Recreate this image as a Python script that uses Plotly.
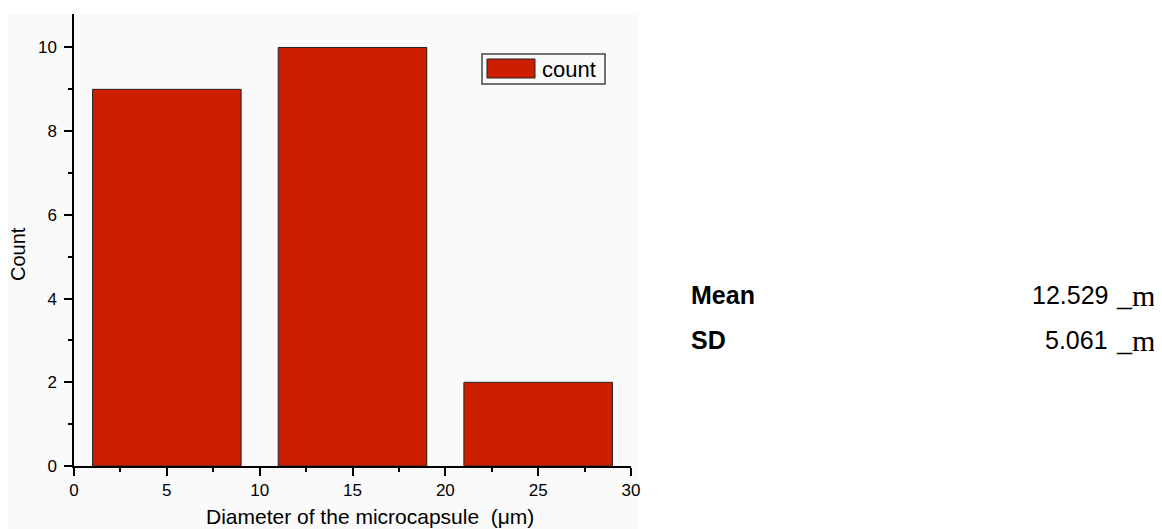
import plotly.graph_objects as go

# ---- data ----
bin_centers = [5, 15, 25]
bin_width = [8, 8, 8]
counts = [9, 10, 2]
series_name = "count"
x_tick_vals = [0, 5, 10, 15, 20, 25, 30]
y_tick_vals = [0, 2, 4, 6, 8, 10]
x_title = "Diameter of the microcapsule  (μm)"
y_title = "Count"
stat_labels = ["Mean", "SD"]
stat_values = ["12.529", "5.061"]
stat_unit = "_m"

# page has an 8px body margin; figure is sized to fit inside the window
OFF = 8
W, H = 1162 - OFF, 529 - OFF
PLOT_L, PLOT_R, PLOT_T, PLOT_B = 74, 631, 14, 466   # absolute page pixels
L = PLOT_L - OFF
T = PLOT_T - OFF
R = (W + OFF) - PLOT_R
B = (H + OFF) - PLOT_B
pw, ph = PLOT_R - PLOT_L, PLOT_B - PLOT_T

def px(x):
    return (x - PLOT_L) / pw

def py(y):
    return (PLOT_B - y) / ph

FONT = "Arial, Liberation Sans, sans-serif"
SERIF = "Liberation Serif, Times New Roman, DejaVu Serif, serif"
BAR = "#cd1f00"

fig = go.Figure()
fig.add_trace(go.Bar(
    x=bin_centers, y=counts, width=bin_width, name=series_name,
    marker=dict(color=BAR, line=dict(color="#222222", width=1)),
    showlegend=False,
))

axis_common = dict(
    showgrid=False, zeroline=False, showline=True, linecolor="black",
    linewidth=1.5, ticks="outside", tickcolor="black", tickwidth=1.5,
    tickfont=dict(family=FONT, size=17, color="black"),
)
fig.update_xaxes(
    range=[0, 30], tickvals=x_tick_vals, ticklen=8,
    minor=dict(ticks="outside", dtick=2.5, ticklen=4, tickcolor="black", tickwidth=1.5),
    **axis_common,
)
fig.update_yaxes(
    range=[0, 10.8], tickvals=y_tick_vals, ticklen=8, ticklabelstandoff=4,
    minor=dict(ticks="outside", dtick=1, ticklen=4, tickcolor="black", tickwidth=1.5),
    **axis_common,
)

shapes = [
    # light gray graph page
    dict(type="rect", xref="paper", yref="paper", x0=px(8), x1=px(639), y0=py(529), y1=py(14),
         fillcolor="#fafafa", line=dict(width=0), layer="below"),
    # legend frame
    dict(type="rect", xref="paper", yref="paper", x0=px(482), x1=px(605), y0=py(84), y1=py(54),
         fillcolor="rgba(0,0,0,0)", line=dict(color="#444444", width=1.5)),
    # legend swatch
    dict(type="rect", xref="paper", yref="paper", x0=px(487), x1=px(535), y0=py(78), y1=py(59),
         fillcolor=BAR, line=dict(color="#222222", width=1)),
]

annotations = [
    dict(text=series_name, xref="paper", yref="paper", x=px(540), y=py(69), xanchor="left",
         yanchor="middle", showarrow=False, font=dict(family=FONT, size=22, color="black")),
    dict(text=x_title, xref="paper", yref="paper", x=px(370), y=py(517), xanchor="center",
         yanchor="middle", showarrow=False, font=dict(family=FONT, size=21, color="black")),
    dict(text=y_title, xref="paper", yref="paper", x=px(18), y=py(254), xanchor="center",
         yanchor="middle", textangle=-90, showarrow=False,
         font=dict(family=FONT, size=20, color="black")),
]
for i, (lab, val) in enumerate(zip(stat_labels, stat_values)):
    yy = 295 + 45 * i
    annotations.append(dict(text=f"<b>{lab}</b>", xref="paper", yref="paper", x=px(689), y=py(yy),
                            xanchor="left", yanchor="middle", showarrow=False,
                            font=dict(family=FONT, size=25, color="black")))
    annotations.append(dict(
        text=val, xref="paper", yref="paper", x=px(1110), y=py(yy), xanchor="right",
        yanchor="middle", showarrow=False, font=dict(family=FONT, size=25, color="black")))
    annotations.append(dict(
        text=stat_unit, xref="paper", yref="paper", x=px(1114), y=py(yy), xanchor="left",
        yanchor="middle", showarrow=False, font=dict(family=SERIF, size=30, color="black")))

fig.update_layout(
    width=W, height=H, margin=dict(l=L, r=R, t=T, b=B),
    paper_bgcolor="white", plot_bgcolor="rgba(0,0,0,0)",
    showlegend=False, shapes=shapes, annotations=annotations,
    font=dict(family=FONT, color="black"),
)
fig.write_html("out.html")
